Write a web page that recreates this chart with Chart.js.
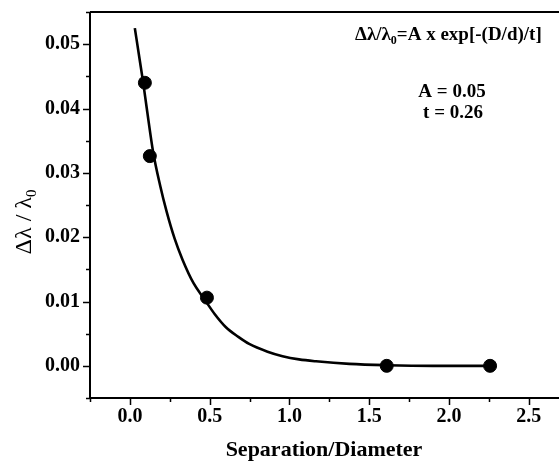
<!DOCTYPE html>
<html>
<head>
<meta charset="utf-8">
<script src="https://cdn.jsdelivr.net/npm/chart.js@4.4.1/dist/chart.umd.min.js"></script>
<style>
  body { margin: 0; background: #fff; }
  #wrap { width: 559px; height: 464px; }
</style>
</head>
<body>
<div id="wrap"><canvas id="decayChart" width="559" height="464"></canvas></div>
<script>
// measured points (separation / diameter vs relative shift)
const sepX = [0.094, 0.125, 0.483, 1.61, 2.258];
const shiftY = [0.044, 0.0326, 0.0106, 0.0, 0.0];

// fitted curve
const fitX = [0.031, 0.06, 0.083, 0.106, 0.146, 0.19, 0.23, 0.28, 0.33, 0.40, 0.466, 0.53, 0.602, 0.68, 0.748, 0.863, 0.957, 1.06, 1.167, 1.376, 1.61, 1.9, 2.26];
const fitY = [0.0525, 0.0478, 0.0441, 0.0400, 0.0332, 0.0280, 0.0240, 0.0198, 0.0165, 0.0128, 0.0104, 0.0081, 0.0060, 0.0045, 0.0034, 0.0022, 0.0015, 0.0010, 0.0007, 0.0003, 0.0001, 0.0, 0.0];

const xLabels = ['0.0', '0.5', '1.0', '1.5', '2.0', '2.5'];
const yLabels = ['0.00', '0.01', '0.02', '0.03', '0.04', '0.05'];

const serif = "'Liberation Serif', 'Times New Roman', serif";

const near = (v, step) => Math.abs(v / step - Math.round(v / step)) < 1e-6;

// axis lines, tick marks, titles and the fit note
const framePlugin = {
  id: 'frame',
  afterDraw(chart) {
    const { ctx, chartArea: a, scales: { x, y } } = chart;
    ctx.save();
    ctx.strokeStyle = '#000';
    ctx.lineWidth = 2;
    ctx.beginPath();
    ctx.moveTo(a.left, a.top);
    ctx.lineTo(a.left, a.bottom);
    ctx.lineTo(a.right, a.bottom);
    ctx.moveTo(a.left, a.top);
    ctx.lineTo(a.right, a.top);
    ctx.stroke();

    ctx.lineWidth = 1.5;
    ctx.beginPath();
    y.ticks.forEach(t => {
      if (!near(t.value, 0.005)) return;
      const py = Math.round(y.getPixelForValue(t.value)) + 0.5;
      const len = near(t.value, 0.01) ? 7 : 4;
      ctx.moveTo(a.left, py);
      ctx.lineTo(a.left - len, py);
    });
    x.ticks.forEach(t => {
      if (!near(t.value, 0.25)) return;
      const px = Math.round(x.getPixelForValue(t.value)) + 0.5;
      const len = near(t.value, 0.5) ? 7 : 4;
      ctx.moveTo(px, a.bottom);
      ctx.lineTo(px, a.bottom + len);
    });
    ctx.stroke();

    ctx.fillStyle = '#000';
    // x title
    ctx.font = 'bold 22px ' + serif;
    ctx.textAlign = 'center';
    ctx.textBaseline = 'alphabetic';
    ctx.fillText('Separation/Diameter', 324, 456);

    // y title, rotated, with subscript
    ctx.save();
    ctx.translate(31, 222);
    ctx.rotate(-Math.PI / 2);
    ctx.font = '24px ' + serif;
    const mainY = 'Δλ / λ';
    const w1 = ctx.measureText(mainY).width;
    ctx.font = '15px ' + serif;
    const w2 = ctx.measureText('0').width;
    const sx = -(w1 + w2) / 2;
    ctx.textAlign = 'left';
    ctx.font = '24px ' + serif;
    ctx.fillText(mainY, sx, 0);
    ctx.font = '15px ' + serif;
    ctx.fillText('0', sx + w1, 5);
    ctx.restore();

    // fit formula
    ctx.textAlign = 'left';
    ctx.font = 'bold 19px ' + serif;
    let fx = 355;
    ctx.fillText('Δλ/λ', fx, 40);
    fx += ctx.measureText('Δλ/λ').width;
    ctx.font = 'bold 12px ' + serif;
    ctx.fillText('0', fx, 44);
    fx += ctx.measureText('0').width;
    ctx.font = 'bold 19px ' + serif;
    ctx.fillText('=A x exp[-(D/d)/t]', fx, 40);

    ctx.textAlign = 'center';
    ctx.fillText('A = 0.05', 452, 97);
    ctx.fillText('t = 0.26', 453, 118);
    ctx.restore();
  }
};

const ctx = document.getElementById('decayChart').getContext('2d');

new Chart(ctx, {
  type: 'scatter',
  data: {
    datasets: [
      {
        label: 'data',
        data: sepX.map((v, i) => ({ x: v, y: shiftY[i] })),
        backgroundColor: '#000',
        borderColor: '#000',
        pointRadius: 6.5,
        pointHoverRadius: 6.5,
        showLine: false
      },
      {
        label: 'fit',
        data: fitX.map((v, i) => ({ x: v, y: fitY[i] })),
        borderColor: '#000',
        borderWidth: 2.6,
        pointRadius: 0,
        showLine: true,
        cubicInterpolationMode: 'monotone',
        fill: false
      }
    ]
  },
  options: {
    responsive: false,
    animation: false,
    layout: { autoPadding: false, padding: { top: 12, right: 0, left: 0, bottom: 0 } },
    plugins: {
      legend: { display: false },
      tooltip: { enabled: false }
    },
    scales: {
      x: {
        type: 'linear',
        min: -0.25,
        max: 2.69,
        afterFit: s => { s.height = 66; s.paddingLeft = 0; s.paddingRight = 0; },
        grid: { display: false, drawTicks: false },
        border: { display: false },
        ticks: {
          stepSize: 0.25,
          includeBounds: false,
          autoSkip: false,
          maxRotation: 0,
          padding: 7,
          color: '#000',
          font: { family: serif, size: 20, weight: 'bold' },
          callback: v => {
            if (!near(v, 0.5) || v < 0) return '';
            const i = Math.round(v / 0.5);
            return xLabels[i] || '';
          }
        }
      },
      y: {
        type: 'linear',
        min: -0.005,
        max: 0.055,
        afterFit: s => { s.width = 90; s.paddingTop = 0; s.paddingBottom = 0; },
        grid: { display: false, drawTicks: false },
        border: { display: false },
        ticks: {
          stepSize: 0.005,
          includeBounds: false,
          autoSkip: false,
          padding: 10,
          color: '#000',
          font: { family: serif, size: 20, weight: 'bold' },
          callback: v => {
            if (!near(v, 0.01) || v < 0) return '';
            const i = Math.round(v / 0.01);
            return yLabels[i] || '';
          }
        }
      }
    }
  },
  plugins: [framePlugin]
});
</script>
</body>
</html>
